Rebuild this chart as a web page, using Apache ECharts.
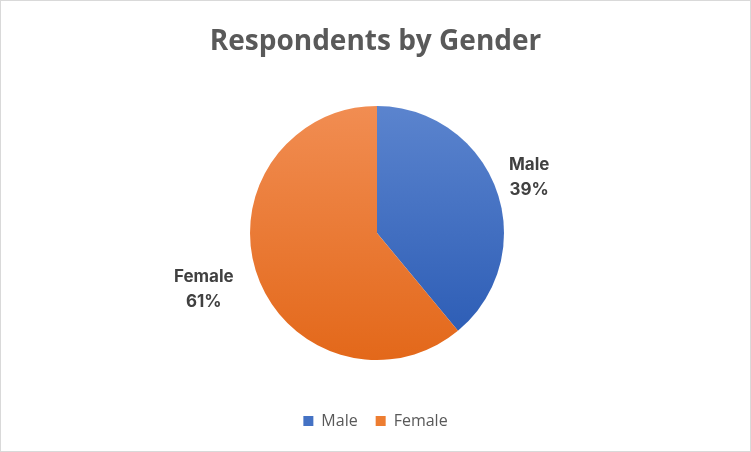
<!DOCTYPE html>
<html><head><meta charset="utf-8">
<script src="https://cdn.jsdelivr.net/npm/echarts@6/dist/echarts.min.js"></script>
<style>html,body{margin:0;padding:0;background:#fff}#c{width:751px;height:452px;box-sizing:border-box;border:1px solid #d9d9d9}</style>
</head><body><div id="c"></div>
<script>
const categories = ['Male', 'Female'];
const values = [39, 61];
const titleText = 'Respondents by Gender';

const colors = [
  new echarts.graphic.LinearGradient(0, 0, 0, 1, [{offset:0,color:'#5b84ce'},{offset:1,color:'#2e5eb6'}]),
  new echarts.graphic.LinearGradient(0, 0, 0, 1, [{offset:0,color:'#f18d52'},{offset:1,color:'#e3681a'}])
];
const legendColors = ['#4472c4', '#ed7d31'];

const chart = echarts.init(document.getElementById('c'), null, {renderer:'canvas'});
chart.setOption({
  animation: false,
  title: {
    text: titleText, left: 'center', top: 22,
    textStyle: {fontFamily: 'Open Sans', fontWeight: 'bold', fontSize: 28, color: '#595959'}
  },
  legend: {
    bottom: 17, left: 'center', itemWidth: 10, itemHeight: 10, itemGap: 18,
    icon: 'rect',
    textStyle: {fontFamily: 'Open Sans', fontSize: 16, color: '#595959', padding: [0, 0, 0, 3]},
    data: categories.map((c, i) => ({name: c, itemStyle: {color: legendColors[i]}}))
  },
  series: [{
    type: 'pie',
    center: [376, 232],
    radius: 127,
    startAngle: 90,
    clockwise: true,
    label: {
      show: true, position: 'outside',
      formatter: '{b}\n{d}%',
      fontFamily: 'Inter', fontWeight: 'bold', fontSize: 17, lineHeight: 25, color: '#404040'
    },
    labelLine: {show: false, length: 38, length2: 0},
    labelLayout: function (p) { return {align: 'center', dx: p.dataIndex === 1 ? -13 : -8}; },
    itemStyle: {borderWidth: 0},
    emphasis: {disabled: true},
    data: categories.map((c, i) => ({name: c, value: values[i], itemStyle: {color: colors[i]}}))
  }]
});
</script></body></html>
